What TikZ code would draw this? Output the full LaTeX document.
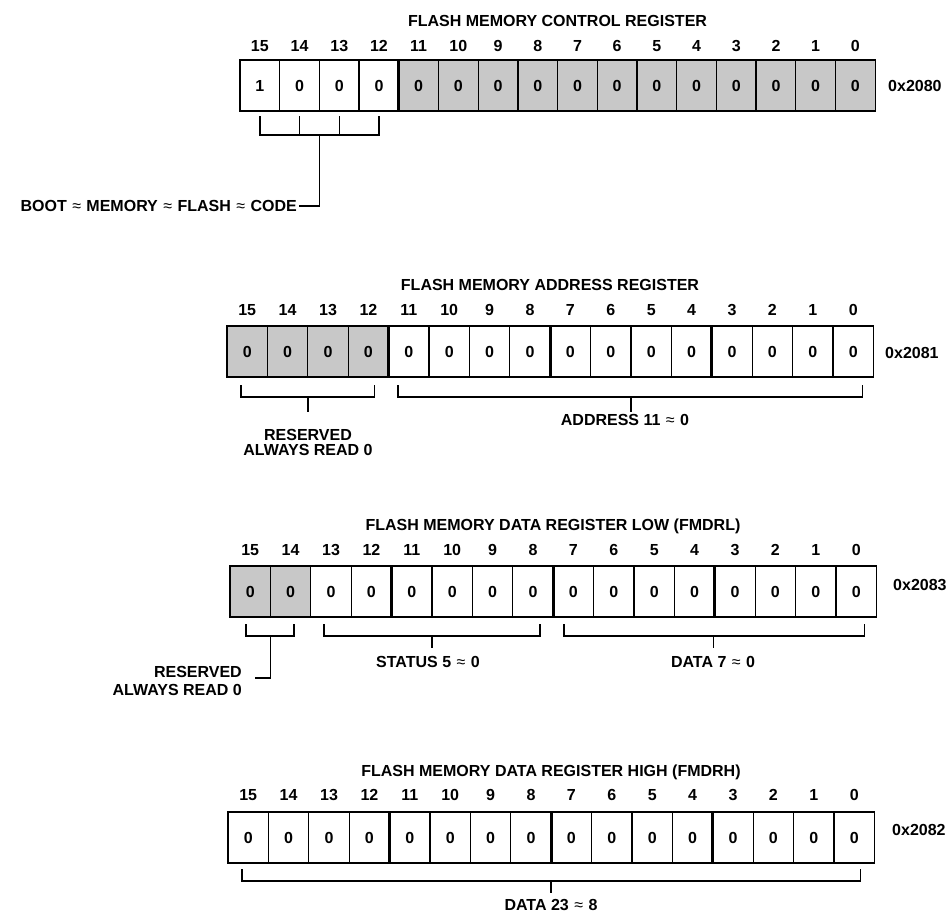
\documentclass[tikz,border=0pt]{standalone}
\usepackage{fontspec}
\setmainfont{Liberation Sans}
\usetikzlibrary{calc}
\definecolor{cellgray}{RGB}{200,200,200}
\newcommand{\apx}{\hspace{1pt}{\mdseries ≈}\hspace{1pt}}
\begin{document}
\begin{tikzpicture}[x=1pt,y=-1pt,
  txt/.style={font=\bfseries\fontsize{16}{17}\selectfont, inner sep=0pt},
  cellbox/.style={draw, line width=1.3pt, minimum height=51pt, inner sep=0pt, outer sep=0pt, font=\bfseries\fontsize{16}{17}\selectfont},
  sep/.style={line width=2.8pt},
  br/.style={line width=1.5pt},
]
\useasboundingbox (0,0) rectangle (948,913);

% ---------------- Register 1 ----------------
\foreach \b in {15,...,0}{
  \pgfmathsetmacro\cx{240+(15-\b+0.5)*39.7}
  \ifnum\b<12 \def\fc{cellgray}\else\def\fc{white}\fi
  \ifnum\b=15 \def\val{1}\else\def\val{0}\fi
  \node[cellbox, minimum width=39.7pt, fill=\fc] (r1c\b) at (\cx,85.5) {\val};
  \node[txt] (r1n\b) at (\cx,46) {\b};
}
\draw[sep] (r1c12.north east) -- (r1c12.south east);
\node[txt] (t1) at (557.5,21) {FLASH MEMORY CONTROL REGISTER};
\node[txt, anchor=west] (h1) at (888,86) {0x2080};
\draw[br] ($(r1c15.south)+(0,5)$) |- ($(r1c12.south)+(0,24)$) -- ($(r1c12.south)+(0,5)$);
\draw[br] ($(r1c14.south)+(0,5)$) -- ($(r1c14.south)+(0,24)$);
\draw[br] ($(r1c13.south)+(0,5)$) -- ($(r1c13.south)+(0,24)$);
\node[txt, anchor=east] (boot) at (297,206) {BOOT \apx{} MEMORY \apx{} FLASH \apx{} CODE};
\draw[br] ($(r1c14.south east)+(0,24)$) |- ($(boot.east)+(2,0)$);

% ---------------- Register 2 ----------------
\foreach \b in {15,...,0}{
  \pgfmathsetmacro\cx{227+(15-\b+0.5)*40.4}
  \ifnum\b>11 \def\fc{cellgray}\else\def\fc{white}\fi
  \node[cellbox, minimum width=40.4pt, fill=\fc] (r2c\b) at (\cx,351.5) {0};
  \node[txt] (r2n\b) at (\cx,310) {\b};
}
\foreach \b in {12,8,4}{\draw[sep] (r2c\b.north east) -- (r2c\b.south east);}
\node[txt] (t2) at (550,285) {FLASH MEMORY ADDRESS REGISTER};
\node[txt, anchor=west] (h2) at (885,353) {0x2081};
\draw[br] ($(r2c15.south west)+(14,8)$) |- ($(r2c12.south east)+(-14,20)$) -- ($(r2c12.south east)+(-14,8)$);
\draw[br] ($(r2c14.south east)+(0,20)$) -- ($(r2c14.south east)+(0,34.7)$);
\node[txt, align=center, font=\bfseries\fontsize{16}{15}\selectfont] (res2) at (308,442.5) {RESERVED\\ALWAYS READ 0};
\draw[br] ($(r2c11.south west)+(9.4,8)$) |- ($(r2c0.south east)+(-11,20)$) -- ($(r2c0.south east)+(-11,8)$);
\draw[br] ($(r2c6.south east)+(0,20)$) -- ($(r2c6.south east)+(0,34.7)$);
\node[txt] (addr) at (625,420) {ADDRESS 11 \apx{} 0};

% ---------------- Register 3 ----------------
\foreach \b in {15,...,0}{
  \pgfmathsetmacro\cx{230+(15-\b+0.5)*40.4}
  \ifnum\b>13 \def\fc{cellgray}\else\def\fc{white}\fi
  \node[cellbox, minimum width=40.4pt, fill=\fc] (r3c\b) at (\cx,591.5) {0};
  \node[txt] (r3n\b) at (\cx,550) {\b};
}
\foreach \b in {12,8,4}{\draw[sep] (r3c\b.north east) -- (r3c\b.south east);}
\node[txt] (t3) at (553,526) {FLASH MEMORY DATA REGISTER LOW (FMDRL)};
\node[txt, anchor=west] (h3) at (893,585) {0x2083};
% reserved
\draw[br] ($(r3c15.south west)+(16,7)$) |- ($(r3c14.south east)+(-17,19)$) -- ($(r3c14.south east)+(-17,7)$);
\node[txt, align=right, anchor=east, font=\bfseries\fontsize{16}{18}\selectfont] (res3) at (242,681) {RESERVED\\ALWAYS READ 0};
\coordinate (res3end) at (255,678);
\draw[br] ($(r3c15.south east)+(0,19)$) |- (res3end);
% status
\draw[br] ($(r3c13.south west)+(13,7)$) |- ($(r3c8.south east)+(-13,19)$) -- ($(r3c8.south east)+(-13,7)$);
\draw[br] ($(r3c11.south east)+(0,19)$) -- ($(r3c11.south east)+(0,31)$);
\node[txt] (stat) at (428,662) {STATUS 5 \apx{} 0};
% data 7..0
\draw[br] ($(r3c7.south west)+(11,7)$) |- ($(r3c0.south east)+(-12,19)$) -- ($(r3c0.south east)+(-12,7)$);
\draw[br] ($(r3c4.south east)+(-1.5,19)$) -- ($(r3c4.south east)+(-1.5,31)$);
\node[txt] (dat7) at (713,662) {DATA 7 \apx{} 0};

% ---------------- Register 4 ----------------
\foreach \b in {15,...,0}{
  \pgfmathsetmacro\cx{228+(15-\b+0.5)*40.4}
  \node[cellbox, minimum width=40.4pt, fill=white] (r4c\b) at (\cx,837.5) {0};
  \node[txt] (r4n\b) at (\cx,795) {\b};
}
\foreach \b in {12,8,4}{\draw[sep] (r4c\b.north east) -- (r4c\b.south east);}
\node[txt] (t4) at (551,772) {FLASH MEMORY DATA REGISTER HIGH (FMDRH)};
\node[txt, anchor=west] (h4) at (892,830) {0x2082};
\draw[br] ($(r4c15.south west)+(14,6)$) |- ($(r4c0.south east)+(-14,18)$) -- ($(r4c0.south east)+(-14,6)$);
\draw[br] ($(r4c8.south east)+(0,18)$) -- ($(r4c8.south east)+(0,30)$);
\node[txt] (dat23) at (551,905) {DATA 23 \apx{} 8};
\end{tikzpicture}
\end{document}
